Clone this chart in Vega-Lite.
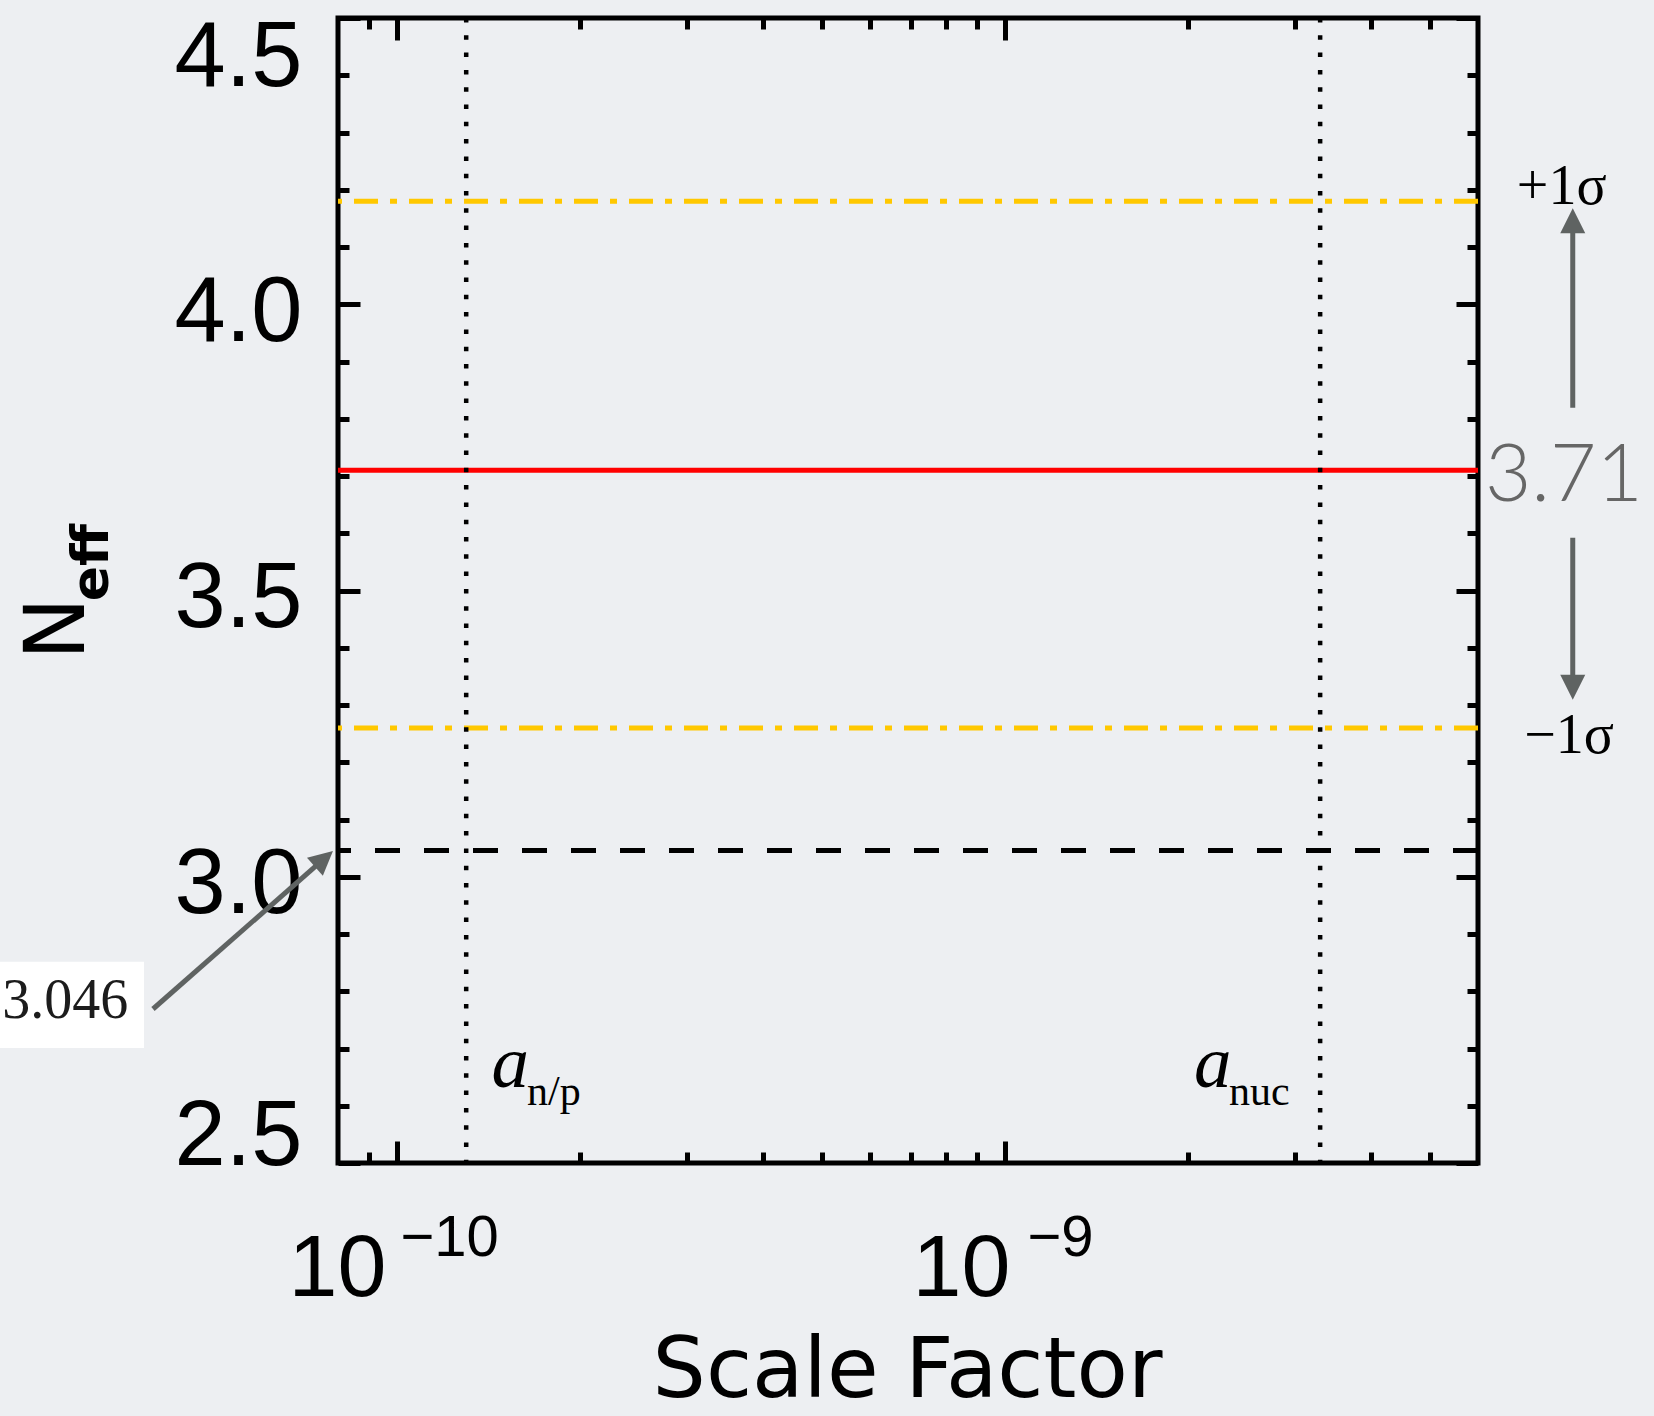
{
  "$schema": "https://vega.github.io/schema/vega-lite/v6.json",
  "width": 1140,
  "height": 1145,
  "autosize": "none",
  "padding": {"left": 338, "top": 18, "right": 176, "bottom": 253},
  "background": "#edeff2",
  "config": {"view": {"stroke": "black", "strokeWidth": 5}},
  "resolve": {"axis": {"x": "independent", "y": "independent"}},
  "datasets": {
    "arrows": [
      {"arrow": "up", "a": 8.59e-9, "a_end": 8.59e-9, "Neff": 3.819, "Neff_end": 4.146},
      {"arrow": "down", "a": 8.59e-9, "a_end": 8.59e-9, "Neff": 3.592, "Neff_end": 3.331},
      {"arrow": "standard", "a": 3.97e-11, "a_end": 7.585e-11, "Neff": 2.769, "Neff_end": 3.0312}
    ]
  },
  "layer": [
    {
      "data": {"values": [{"a_left": 2e-11, "a_right": 3.837e-11, "N_low": 2.7009, "N_high": 2.8516}]},
      "mark": {"type": "rect", "fill": "white"},
      "encoding": {
        "x": {"field": "a_left", "type": "quantitative", "scale": {"type": "log", "domain": [8e-11, 6e-9], "nice": false}, "axis": null},
        "x2": {"field": "a_right"},
        "y": {"field": "N_low", "type": "quantitative", "scale": {"domain": [2.5, 4.5], "nice": false, "zero": false}, "axis": null},
        "y2": {"field": "N_high"}
      }
    },
    {
      "data": {"values": [{"bound": "+1σ", "Neff": 4.18}, {"bound": "−1σ", "Neff": 3.26}]},
      "mark": {"type": "rule", "stroke": "#ffc800", "strokeWidth": 5, "strokeDash": [24, 12, 7, 12]},
      "encoding": {
        "y": {"field": "Neff", "type": "quantitative", "scale": {"domain": [2.5, 4.5], "nice": false, "zero": false},
          "axis": {"orient": "left", "values": [2.6, 2.7, 2.8, 2.9, 3.1, 3.2, 3.3, 3.4, 3.6, 3.7, 3.8, 3.9, 4.1, 4.2, 4.3, 4.4],
            "tickSize": -11, "tickWidth": 5, "tickColor": "black", "labels": false, "domain": false, "grid": false,
            "title": "eff", "titleFont": "DejaVu Sans", "titleFontWeight": "bold", "titleFontSize": 52, "titleColor": "black",
            "titleAngle": -90, "titleX": -231, "titleY": 544, "titleAlign": "center", "titleBaseline": "alphabetic"}}
      }
    },
    {
      "data": {"values": [{"estimate": "best fit", "Neff": 3.71}]},
      "mark": {"type": "rule", "stroke": "#ff0000", "strokeWidth": 5},
      "encoding": {
        "y": {"field": "Neff", "type": "quantitative", "scale": {"domain": [2.5, 4.5], "nice": false, "zero": false},
          "axis": {"orient": "left", "values": [2.5, 3, 3.5, 4, 4.5], "format": ".1f",
            "tickSize": -22, "tickWidth": 5, "tickColor": "black", "domain": false, "grid": false,
            "labelFont": "Liberation Sans", "labelFontSize": 92, "labelColor": "black", "labelPadding": 58,
            "labelAlign": "right", "labelBaseline": "alphabetic", "labelFlush": false,
            "labelOffset": {"condition": [{"test": "datum.value > 4.45", "value": 67}, {"test": "datum.value < 2.55", "value": 1}], "value": 36},
            "title": "N", "titleFont": "DejaVu Sans", "titleFontWeight": "normal", "titleFontSize": 84, "titleColor": "black",
            "titleAngle": -90, "titleX": -255, "titleY": 610, "titleAlign": "center", "titleBaseline": "alphabetic"}}
      }
    },
    {
      "data": {"values": [{"estimate": "standard", "Neff": 3.046}]},
      "mark": {"type": "rule", "stroke": "black", "strokeWidth": 5, "strokeDash": [25, 24]},
      "encoding": {
        "y": {"field": "Neff", "type": "quantitative", "scale": {"domain": [2.5, 4.5], "nice": false, "zero": false},
          "axis": {"orient": "right", "values": [2.5, 3, 3.5, 4, 4.5], "tickSize": -22, "tickWidth": 5, "tickColor": "black",
            "labels": false, "domain": false, "grid": false, "title": null}}
      }
    },
    {
      "data": {"values": [{"epoch": "n/p", "a": 1.3e-10}, {"epoch": "nuc", "a": 3.3e-9}]},
      "mark": {"type": "rule", "stroke": "black", "strokeWidth": 4.5, "strokeDash": [4.5, 12.8]},
      "encoding": {
        "x": {"field": "a", "type": "quantitative", "scale": {"type": "log", "domain": [8e-11, 6e-9], "nice": false},
          "axis": {"orient": "bottom", "values": [1e-10, 1e-9], "labelExpr": "'10'",
            "tickSize": -22, "tickWidth": 5, "tickColor": "black", "domain": false, "grid": false,
            "labelFont": "Liberation Sans", "labelFontSize": 88, "labelColor": "black", "labelAlign": "right",
            "labelBaseline": "alphabetic", "labelPadding": 154, "labelFlush": false,
            "labelOffset": {"condition": {"test": "datum.value < 5e-10", "value": -11}, "value": 5},
            "title": "Scale Factor", "titleFont": "DejaVu Sans", "titleFontWeight": "normal", "titleFontSize": 84, "titleColor": "black",
            "titleX": 569, "titleY": 233, "titleAlign": "center", "titleBaseline": "alphabetic"}}
      }
    },
    {
      "data": {"name": "arrows"},
      "mark": {"type": "rule", "stroke": "#5f6362", "strokeWidth": 5},
      "encoding": {
        "x": {"field": "a", "type": "quantitative", "scale": {"type": "log", "domain": [8e-11, 6e-9], "nice": false},
          "axis": {"orient": "bottom", "values": [9e-11, 2e-10, 3e-10, 4e-10, 5e-10, 6e-10, 7e-10, 8e-10, 9e-10, 2e-9, 3e-9, 4e-9, 5e-9],
            "tickSize": -11, "tickWidth": 5, "tickColor": "black", "labels": false, "domain": false, "grid": false, "title": null}},
        "x2": {"field": "a_end"},
        "y": {"field": "Neff", "type": "quantitative", "scale": {"domain": [2.5, 4.5], "nice": false, "zero": false},
          "axis": {"orient": "right", "values": [2.6, 2.7, 2.8, 2.9, 3.1, 3.2, 3.3, 3.4, 3.6, 3.7, 3.8, 3.9, 4.1, 4.2, 4.3, 4.4],
            "tickSize": -11, "tickWidth": 5, "tickColor": "black", "labels": false, "domain": false, "grid": false, "title": null}},
        "y2": {"field": "Neff_end"}
      }
    },
    {
      "data": {"name": "arrows"},
      "transform": [{"filter": "datum.arrow == 'up'"}],
      "mark": {"type": "point", "shape": "M0,-1L1,1L-1,1Z", "size": 625, "filled": true, "fill": "#5f6362", "opacity": 1, "strokeWidth": 0, "angle": 0},
      "encoding": {
        "x": {"field": "a_end", "type": "quantitative", "scale": {"type": "log", "domain": [8e-11, 6e-9], "nice": false},
          "axis": {"orient": "top", "values": [1e-10, 1e-9], "tickSize": -22, "tickWidth": 5, "tickColor": "black",
            "labels": false, "domain": false, "grid": false, "title": null}},
        "y": {"field": "Neff_end", "type": "quantitative", "scale": {"domain": [2.5, 4.5], "nice": false, "zero": false}, "axis": null}
      }
    },
    {
      "data": {"name": "arrows"},
      "transform": [{"filter": "datum.arrow == 'down'"}],
      "mark": {"type": "point", "shape": "M0,-1L1,1L-1,1Z", "size": 625, "filled": true, "fill": "#5f6362", "opacity": 1, "strokeWidth": 0, "angle": 180},
      "encoding": {
        "x": {"field": "a_end", "type": "quantitative", "scale": {"type": "log", "domain": [8e-11, 6e-9], "nice": false},
          "axis": {"orient": "top", "values": [9e-11, 2e-10, 3e-10, 4e-10, 5e-10, 6e-10, 7e-10, 8e-10, 9e-10, 2e-9, 3e-9, 4e-9, 5e-9],
            "tickSize": -11, "tickWidth": 5, "tickColor": "black", "labels": false, "domain": false, "grid": false, "title": null}},
        "y": {"field": "Neff_end", "type": "quantitative", "scale": {"domain": [2.5, 4.5], "nice": false, "zero": false}, "axis": null}
      }
    },
    {
      "data": {"name": "arrows"},
      "transform": [{"filter": "datum.arrow == 'standard'"}],
      "mark": {"type": "point", "shape": "M0,-1L1,1L-1,1Z", "size": 576, "filled": true, "fill": "#5f6362", "opacity": 1, "strokeWidth": 0, "angle": 48.7},
      "encoding": {
        "x": {"field": "a_end", "type": "quantitative", "scale": {"type": "log", "domain": [8e-11, 6e-9], "nice": false}, "axis": null},
        "y": {"field": "Neff_end", "type": "quantitative", "scale": {"domain": [2.5, 4.5], "nice": false, "zero": false}, "axis": null}
      }
    },
    {
      "data": {"values": [{"a": 1.4305e-10, "Neff": 2.6328, "label": "a"}, {"a": 2.0469e-9, "Neff": 2.6328, "label": "a"}]},
      "mark": {"type": "text", "font": "Liberation Serif", "fontStyle": "italic", "fontSize": 75, "align": "left", "baseline": "alphabetic", "color": "black"},
      "encoding": {
        "x": {"field": "a", "type": "quantitative", "scale": {"type": "log", "domain": [8e-11, 6e-9], "nice": false},
          "axis": {"orient": "bottom", "values": [1e-10, 1e-9], "ticks": false, "domain": false, "grid": false,
            "labelExpr": "datum.value < 5e-10 ? '−10' : '−9'",
            "labelFont": "Liberation Sans", "labelFontSize": 58, "labelColor": "black", "labelAlign": "left",
            "labelBaseline": "alphabetic", "labelPadding": 92, "labelFlush": false,
            "labelOffset": {"condition": {"test": "datum.value < 5e-10", "value": 3}, "value": 22},
            "title": null}},
        "y": {"field": "Neff", "type": "quantitative", "scale": {"domain": [2.5, 4.5], "nice": false, "zero": false}, "axis": null},
        "text": {"field": "label"}
      }
    },
    {
      "data": {"values": [{"a": 1.637e-10, "Neff": 2.6013, "label": "n/p"}, {"a": 2.3365e-9, "Neff": 2.6013, "label": "nuc"}]},
      "mark": {"type": "text", "font": "Liberation Serif", "fontSize": 42, "align": "left", "baseline": "alphabetic", "color": "black"},
      "encoding": {
        "x": {"field": "a", "type": "quantitative", "scale": {"type": "log", "domain": [8e-11, 6e-9], "nice": false}, "axis": null},
        "y": {"field": "Neff", "type": "quantitative", "scale": {"domain": [2.5, 4.5], "nice": false, "zero": false}, "axis": null},
        "text": {"field": "label"}
      }
    },
    {
      "data": {"values": [{"a": 8.24e-9, "Neff": 4.175, "label": "+1σ"}, {"a": 8.47e-9, "Neff": 3.2162, "label": "−1σ"}]},
      "mark": {"type": "text", "font": "Liberation Serif", "fontSize": 56, "align": "center", "baseline": "alphabetic", "color": "black"},
      "encoding": {
        "x": {"field": "a", "type": "quantitative", "scale": {"type": "log", "domain": [8e-11, 6e-9], "nice": false}, "axis": null},
        "y": {"field": "Neff", "type": "quantitative", "scale": {"domain": [2.5, 4.5], "nice": false, "zero": false}, "axis": null},
        "text": {"field": "label"}
      }
    },
    {
      "data": {"values": [{"a": 8.305e-9, "Neff": 3.656, "label": "3.71"}]},
      "mark": {"type": "text", "font": "Lato", "fontWeight": 300, "fontSize": 80, "align": "center", "baseline": "alphabetic", "color": "#666666"},
      "encoding": {
        "x": {"field": "a", "type": "quantitative", "scale": {"type": "log", "domain": [8e-11, 6e-9], "nice": false}, "axis": null},
        "y": {"field": "Neff", "type": "quantitative", "scale": {"domain": [2.5, 4.5], "nice": false, "zero": false}, "axis": null},
        "text": {"field": "label"}
      }
    },
    {
      "data": {"values": [{"a": 3.615e-11, "Neff": 2.7533, "label": "3.046"}]},
      "mark": {"type": "text", "font": "Liberation Serif", "fontSize": 56, "align": "right", "baseline": "alphabetic", "color": "#1c1c1c"},
      "encoding": {
        "x": {"field": "a", "type": "quantitative", "scale": {"type": "log", "domain": [8e-11, 6e-9], "nice": false}, "axis": null},
        "y": {"field": "Neff", "type": "quantitative", "scale": {"domain": [2.5, 4.5], "nice": false, "zero": false}, "axis": null},
        "text": {"field": "label"}
      }
    }
  ]
}
